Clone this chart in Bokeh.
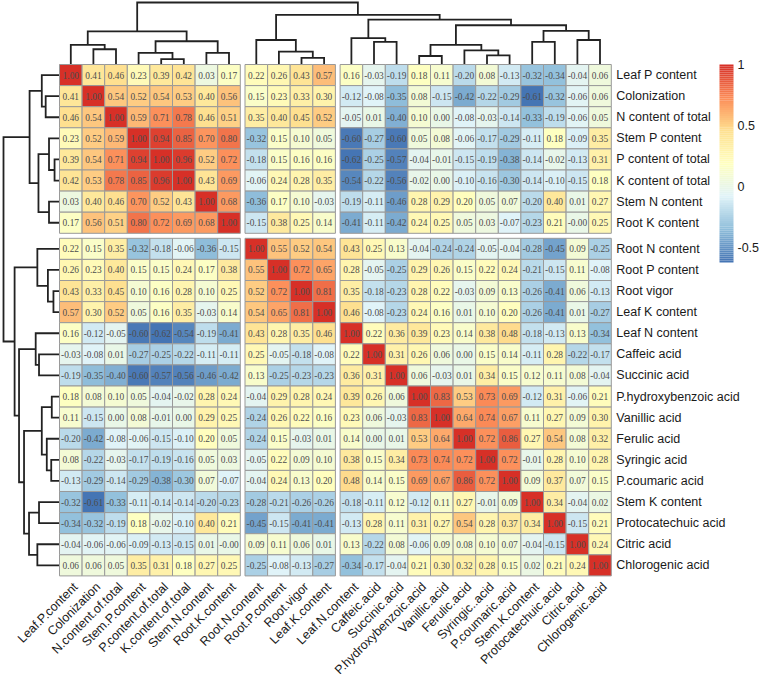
import numpy as np
from bokeh.plotting import figure
from bokeh.models import Range1d, ColumnDataSource, LinearColorMapper
from bokeh.transform import transform
from bokeh.embed import file_html
from bokeh.resources import INLINE
from bokeh.core.properties import value

# ---------------- data ----------------
ROW_LABELS = ["Leaf P content", "Colonization", "N content of total", "Stem P content",
              "P content of total", "K content of total", "Stem N content", "Root K content",
              "Root N content", "Root P content", "Root vigor", "Leaf K content",
              "Leaf N content", "Caffeic acid", "Succinic acid", "P.hydroxybenzoic acid",
              "Vanillic acid", "Ferulic acid", "Syringic  acid", "P.coumaric acid",
              "Stem K content", "Protocatechuic acid", "Citric acid", "Chlorogenic acid"]
COL_LABELS = ["Leaf.P.content", "Colonization", "N.content.of.total", "Stem.P.content",
              "P.content.of.total", "K.content.of.total", "Stem.N.content", "Root.K.content",
              "Root.N.content", "Root.P.content", "Root.vigor", "Leaf.K.content",
              "Leaf.N.content", "Caffeic.acid", "Succinic.acid", "P.hydroxybenzoic.acid",
              "Vanillic.acid", "Ferulic.acid", "Syringic..acid", "P.coumaric.acid",
              "Stem.K.content", "Protocatechuic.acid", "Citric.acid", "Chlorogenic.acid"]

LEAF_P      = [1.00, 0.41, 0.46, 0.23, 0.39, 0.42, 0.03, 0.17, 0.22, 0.26, 0.43, 0.57, 0.16, -0.03, -0.19, 0.18, 0.11, -0.20, 0.08, -0.13, -0.32, -0.34, -0.04, 0.06]
COLONIZ     = [0.41, 1.00, 0.54, 0.52, 0.54, 0.53, 0.40, 0.56, 0.15, 0.23, 0.33, 0.30, -0.12, -0.08, -0.35, 0.08, -0.15, -0.42, -0.22, -0.29, -0.61, -0.32, -0.06, 0.06]
N_TOTAL     = [0.46, 0.54, 1.00, 0.59, 0.71, 0.78, 0.46, 0.51, 0.35, 0.40, 0.45, 0.52, -0.05, 0.01, -0.40, 0.10, 0.00, -0.08, -0.03, -0.14, -0.33, -0.19, -0.06, 0.05]
STEM_P      = [0.23, 0.52, 0.59, 1.00, 0.94, 0.85, 0.70, 0.80, -0.32, 0.15, 0.10, 0.05, -0.60, -0.27, -0.60, 0.05, 0.08, -0.06, -0.17, -0.29, -0.11, 0.18, -0.09, 0.35]
P_TOTAL     = [0.39, 0.54, 0.71, 0.94, 1.00, 0.96, 0.52, 0.72, -0.18, 0.15, 0.16, 0.16, -0.62, -0.25, -0.57, -0.04, -0.01, -0.15, -0.19, -0.38, -0.14, -0.02, -0.13, 0.31]
K_TOTAL     = [0.42, 0.53, 0.78, 0.85, 0.96, 1.00, 0.43, 0.69, -0.06, 0.24, 0.28, 0.35, -0.54, -0.22, -0.56, -0.02, 0.00, -0.10, -0.16, -0.30, -0.14, -0.10, -0.15, 0.18]
STEM_N      = [0.03, 0.40, 0.46, 0.70, 0.52, 0.43, 1.00, 0.68, -0.36, 0.17, 0.10, -0.03, -0.19, -0.11, -0.46, 0.28, 0.29, 0.20, 0.05, 0.07, -0.20, 0.40, 0.01, 0.27]
ROOT_K      = [0.17, 0.56, 0.51, 0.80, 0.72, 0.69, 0.68, 1.00, -0.15, 0.38, 0.25, 0.14, -0.41, -0.11, -0.42, 0.24, 0.25, 0.05, 0.03, -0.07, -0.23, 0.21, -0.00, 0.25]
ROOT_N      = [0.22, 0.15, 0.35, -0.32, -0.18, -0.06, -0.36, -0.15, 1.00, 0.55, 0.52, 0.54, 0.43, 0.25, 0.13, -0.04, -0.24, -0.24, -0.05, -0.04, -0.28, -0.45, 0.09, -0.25]
ROOT_P      = [0.26, 0.23, 0.40, 0.15, 0.15, 0.24, 0.17, 0.38, 0.55, 1.00, 0.72, 0.65, 0.28, -0.05, -0.25, 0.29, 0.26, 0.15, 0.22, 0.24, -0.21, -0.15, 0.11, -0.08]
ROOT_VIGOR  = [0.43, 0.33, 0.45, 0.10, 0.16, 0.28, 0.10, 0.25, 0.52, 0.72, 1.00, 0.81, 0.35, -0.18, -0.23, 0.28, 0.22, -0.03, 0.09, 0.13, -0.26, -0.41, 0.06, -0.13]
LEAF_K      = [0.57, 0.30, 0.52, 0.05, 0.16, 0.35, -0.03, 0.14, 0.54, 0.65, 0.81, 1.00, 0.46, -0.08, -0.23, 0.24, 0.16, 0.01, 0.10, 0.20, -0.26, -0.41, 0.01, -0.27]
LEAF_N      = [0.16, -0.12, -0.05, -0.60, -0.62, -0.54, -0.19, -0.41, 0.43, 0.28, 0.35, 0.46, 1.00, 0.22, 0.36, 0.39, 0.23, 0.14, 0.38, 0.48, -0.18, -0.13, 0.13, -0.34]
CAFFEIC     = [-0.03, -0.08, 0.01, -0.27, -0.25, -0.22, -0.11, -0.11, 0.25, -0.05, -0.18, -0.08, 0.22, 1.00, 0.31, 0.26, 0.06, 0.00, 0.15, 0.14, -0.11, 0.28, -0.22, -0.17]
SUCCINIC    = [-0.19, -0.35, -0.40, -0.60, -0.57, -0.56, -0.46, -0.42, 0.13, -0.25, -0.23, -0.23, 0.36, 0.31, 1.00, 0.06, -0.03, 0.01, 0.34, 0.15, 0.12, 0.11, 0.08, -0.04]
P_HYDROXY   = [0.18, 0.08, 0.10, 0.05, -0.04, -0.02, 0.28, 0.24, -0.04, 0.29, 0.28, 0.24, 0.39, 0.26, 0.06, 1.00, 0.83, 0.53, 0.73, 0.69, -0.12, 0.31, -0.06, 0.21]
VANILLIC    = [0.11, -0.15, 0.00, 0.08, -0.01, 0.00, 0.29, 0.25, -0.24, 0.26, 0.22, 0.16, 0.23, 0.06, -0.03, 0.83, 1.00, 0.64, 0.74, 0.67, 0.11, 0.27, 0.09, 0.30]
FERULIC     = [-0.20, -0.42, -0.08, -0.06, -0.15, -0.10, 0.20, 0.05, -0.24, 0.15, -0.03, 0.01, 0.14, 0.00, 0.01, 0.53, 0.64, 1.00, 0.72, 0.86, 0.27, 0.54, 0.08, 0.32]
SYRINGIC    = [0.08, -0.22, -0.03, -0.17, -0.19, -0.16, 0.05, 0.03, -0.05, 0.22, 0.09, 0.10, 0.38, 0.15, 0.34, 0.73, 0.74, 0.72, 1.00, 0.72, -0.01, 0.28, 0.10, 0.28]
P_COUMARIC  = [-0.13, -0.29, -0.14, -0.29, -0.38, -0.30, 0.07, -0.07, -0.04, 0.24, 0.13, 0.20, 0.48, 0.14, 0.15, 0.69, 0.67, 0.86, 0.72, 1.00, 0.09, 0.37, 0.07, 0.15]
STEM_K      = [-0.32, -0.61, -0.33, -0.11, -0.14, -0.14, -0.20, -0.23, -0.28, -0.21, -0.26, -0.26, -0.18, -0.11, 0.12, -0.12, 0.11, 0.27, -0.01, 0.09, 1.00, 0.34, -0.04, 0.02]
PROTOCAT    = [-0.34, -0.32, -0.19, 0.18, -0.02, -0.10, 0.40, 0.21, -0.45, -0.15, -0.41, -0.41, -0.13, 0.28, 0.11, 0.31, 0.27, 0.54, 0.28, 0.37, 0.34, 1.00, -0.15, 0.21]
CITRIC      = [-0.04, -0.06, -0.06, -0.09, -0.13, -0.15, 0.01, -0.00, 0.09, 0.11, 0.06, 0.01, 0.13, -0.22, 0.08, -0.06, 0.09, 0.08, 0.10, 0.07, -0.04, -0.15, 1.00, 0.24]
CHLOROGENIC = [0.06, 0.06, 0.05, 0.35, 0.31, 0.18, 0.27, 0.25, -0.25, -0.08, -0.13, -0.27, -0.34, -0.17, -0.04, 0.21, 0.30, 0.32, 0.28, 0.15, 0.02, 0.21, 0.24, 1.00]

CORR_ROWS = [LEAF_P, COLONIZ, N_TOTAL, STEM_P, P_TOTAL, K_TOTAL, STEM_N, ROOT_K,
             ROOT_N, ROOT_P, ROOT_VIGOR, LEAF_K, LEAF_N, CAFFEIC, SUCCINIC, P_HYDROXY,
             VANILLIC, FERULIC, SYRINGIC, P_COUMARIC, STEM_K, PROTOCAT, CITRIC, CHLOROGENIC]

ROW_GAPS = [8]
COL_GAPS = [8, 12]

# hierarchical clustering merges (hclust style: negative = leaf index+1, positive = merge step)
MERGE_A = [-5, -11, -16, -19, -4, -7, -10, -18, -2, -1, 3, -14, -21, 5, -9, -23, -13, 10, 13, 11, 17, 15, 18]
MERGE_B = [-6, -12, -17, -20, 1, -8, 2, 4, -3, 9, 8, -15, -22, 6, 7, -24, 12, 14, 16, 19, 20, 21, 22]
MERGE_H = [0.08, 0.10, 0.13, 0.14, 0.18, 0.18, 0.20, 0.22, 0.24, 0.31, 0.31, 0.36, 0.36, 0.37,
           0.39, 0.39, 0.42, 0.53, 0.54, 0.63, 0.72, 0.80, 1.00]

LEGEND_TICKS = [1, 0.5, 0, -0.5]
LEGEND_TICK_LABELS = ["1", "0.5", "0", "-0.5"]

BASE_COLORS = ["#4575B4", "#91BFDB", "#E0F3F8", "#FFFFBF", "#FEE090", "#FC8D59", "#D73027"]

# ---------------- layout ----------------
W, H = 761, 674
X0, CW, CGAP = 59.0, 22.6, 4.7
Y0, RH, RGAP = 64.0, 21.1, 5.0

n = len(ROW_LABELS)
mat = np.array(CORR_ROWS)
vmin, vmax = float(mat.min()), float(mat.max())


def ty(cy):
    return H - cy


def col_left(j):
    return X0 + j * CW + CGAP * sum(j >= g for g in COL_GAPS)


def row_top(i):
    return Y0 + i * RH + RGAP * sum(i >= g for g in ROW_GAPS)


# palette like colorRampPalette(rev(RdYlBu7))(100)
def hex2rgb(h):
    return np.array([int(h[k:k + 2], 16) for k in (1, 3, 5)], dtype=float)


base = np.array([hex2rgb(c) for c in BASE_COLORS])
pos = np.linspace(0, 1, len(BASE_COLORS))
t = np.linspace(0, 1, 100)
pal = []
for tt in t:
    rgb = [np.interp(tt, pos, base[:, k]) for k in range(3)]
    pal.append("#%02x%02x%02x" % tuple(int(round(c)) for c in rgb))

mapper = LinearColorMapper(palette=pal, low=vmin, high=vmax)

p = figure(width=W, height=H, x_range=Range1d(0, W), y_range=Range1d(0, H),
           x_axis_location=None, y_axis_location=None, toolbar_location=None,
           output_backend="svg", min_border=0, outline_line_color=None,
           background_fill_color="white", border_fill_color="white")
p.grid.visible = False

# ---- heatmap cells ----
xs, ys, vals, txt = [], [], [], []
for i in range(n):
    for j in range(n):
        xs.append(col_left(j) + CW / 2)
        ys.append(ty(row_top(i) + RH / 2))
        v = mat[i, j]
        vals.append(v)
        txt.append("%.2f" % v if abs(v) >= 0.005 else ("-0.00" if (i, j) in [(7, 22), (22, 7)] else "0.00"))
src = ColumnDataSource(dict(x=xs, y=ys, v=vals, t=txt))
p.rect(x="x", y="y", width=CW, height=RH, source=src,
       fill_color=transform("v", mapper), line_color="#999999", line_width=1)
p.text(x="x", y="y", text="t", source=src, text_align="center", text_baseline="middle",
       text_font=value("Liberation Serif"), text_font_size="9.4px", text_color="#4d4d4d")

mat_right = col_left(n - 1) + CW
mat_bottom = row_top(n - 1) + RH

# ---- row labels (right) ----
p.text(x=[mat_right + 5] * n, y=[ty(row_top(i) + RH / 2) for i in range(n)], text=ROW_LABELS,
       text_align="left", text_baseline="middle", text_font=value("Liberation Sans"),
       text_font_size="12.5px", text_color="#1a1a1a")

# ---- column labels (bottom, 45 deg) ----
p.text(x=[col_left(j) + CW / 2 for j in range(n)], y=[ty(mat_bottom + 4)] * n, text=COL_LABELS,
       angle=np.pi / 4, text_align="right", text_baseline="top",
       text_font=value("Liberation Sans"), text_font_size="12.5px", text_color="#1a1a1a")


# ---- dendrograms ----
def dendro(leaf_pos):
    npos, nh = {}, {}
    P, Hh = [], []
    for k, (a, b, h) in enumerate(zip(MERGE_A, MERGE_B, MERGE_H), start=1):
        def get(c):
            if c < 0:
                return leaf_pos[-c - 1], 0.0
            return npos[c], nh[c]
        pa, ha = get(a)
        pb, hb = get(b)
        P.append([pa, pa, pb, pb])
        Hh.append([ha, h, h, hb])
        npos[k] = (pa + pb) / 2
        nh[k] = h
    return P, Hh


# column dendrogram (top)
cpos = [col_left(j) + CW / 2 for j in range(n)]
P, Hh = dendro(cpos)
leaf_y, top_y = Y0 - 0.5, 2.0
p.multi_line(xs=P, ys=[[ty(leaf_y - hv * (leaf_y - top_y)) for hv in hh] for hh in Hh],
             line_color="#222222", line_width=1.8, line_join="miter")

# row dendrogram (left)
rpos = [row_top(i) + RH / 2 for i in range(n)]
P, Hh = dendro(rpos)
leaf_x, left_x = X0 - 0.5, 3.0
p.multi_line(xs=[[leaf_x - hv * (leaf_x - left_x) for hv in hh] for hh in Hh],
             ys=[[ty(v) for v in pp] for pp in P],
             line_color="#222222", line_width=1.8, line_join="miter")

# ---- colour legend ----
cb_left, cb_w, cb_top, cb_bot = 719.0, 14.0, 64.0, 262.0


def vy(v):
    return cb_bot - (v - vmin) / (vmax - vmin) * (cb_bot - cb_top)


edges = np.linspace(vmin, vmax, len(pal) + 1)
p.quad(left=cb_left, right=cb_left + cb_w,
       bottom=[ty(vy(e)) for e in edges[:-1]], top=[ty(vy(e)) for e in edges[1:]],
       fill_color=pal, line_color=None)
p.text(x=[cb_left + cb_w + 4] * len(LEGEND_TICKS), y=[ty(vy(v)) for v in LEGEND_TICKS],
       text=LEGEND_TICK_LABELS, text_align="left", text_baseline="middle",
       text_font=value("Liberation Sans"), text_font_size="12.5px", text_color="#1a1a1a")

open("out.html", "w").write(file_html(p, INLINE))
